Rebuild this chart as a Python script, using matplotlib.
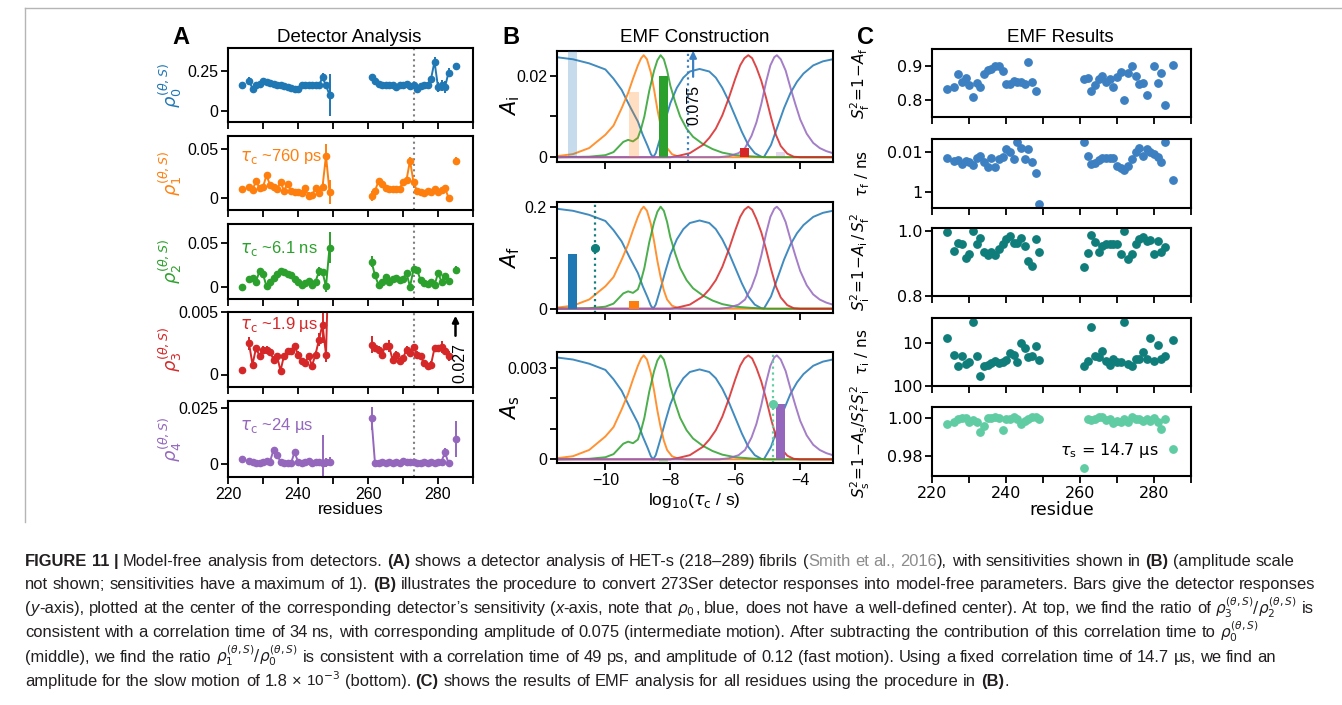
import numpy as np
import matplotlib
matplotlib.use("Agg")
import matplotlib.pyplot as plt
from matplotlib.lines import Line2D
from matplotlib.ticker import NullLocator

plt.rcParams['font.family'] = ['Liberation Sans', 'DejaVu Sans']
plt.rcParams['mathtext.fontset'] = 'dejavusans'

nan = np.nan

# ---------------- detector responses per residue (panel A) ----------------
residues = [224,
            226, 227, 228, 229, 230, 231, 232, 233, 234, 235, 236, 237, 238,
            239, 240, 241, 242, 243, 244, 245, 246, 247, 248, 249,
            261, 262, 263, 264, 265, 266, 267, 268, 269, 270, 271, 272, 273,
            274, 275, 276, 277, 278, 279, 280, 281, 282, 283,
            285]

rho0 = [0.16,
        0.19, 0.14, 0.16, 0.17, 0.19, 0.18, 0.175, 0.17, 0.165, 0.16, 0.155, 0.15, 0.145,
        0.14, 0.135, 0.16, 0.16, 0.165, 0.16, 0.165, 0.16, 0.21, 0.16, 0.10,
        0.21, 0.19, 0.17, 0.165, 0.165, 0.16, 0.165, 0.15, 0.16, 0.165, 0.17, 0.155, 0.16,
        0.14, 0.155, 0.16, 0.165, 0.20, 0.31, 0.15, 0.16, 0.15, 0.24,
        0.28]
rho0_err = [0.012,
            0.02, 0.01, 0.008, 0.008, 0.008, 0.008, 0.008, 0.008, 0.008, 0.008, 0.008, 0.008, 0.008,
            0.008, 0.008, 0.008, 0.01, 0.008, 0.01, 0.01, 0.012, 0.025, 0.015, 0.13,
            0.015, 0.01, 0.008, 0.008, 0.01, 0.008, 0.008, 0.02, 0.008, 0.008, 0.008, 0.008, 0.008,
            0.008, 0.01, 0.008, 0.008, 0.01, 0.03, 0.03, 0.035, 0.04, 0.03,
            0.015]

rho1 = [0.009,
        0.011, 0.008, 0.017, 0.010, 0.011, 0.023, 0.013, 0.011, 0.009, 0.016, 0.007, 0.0145, 0.007,
        0.006, 0.0055, 0.0045, 0.0095, 0.002, 0.003, 0.0095, 0.0045, 0.011, 0.043, 0.006,
        0.002, 0.007, 0.017, 0.0145, 0.010, 0.0085, 0.0085, 0.0085, 0.009, 0.016, 0.018, 0.038, 0.016,
        0.007, 0.006, 0.0045, 0.007, 0.006, 0.009, 0.006, 0.008, 0.010, 0.0,
        0.038]
rho1_err = [0.002,
            0.003, 0.002, 0.002, 0.002, 0.002, 0.003, 0.002, 0.002, 0.002, 0.003, 0.002, 0.002, 0.002,
            0.002, 0.002, 0.002, 0.002, 0.004, 0.002, 0.002, 0.004, 0.004, 0.012, 0.012,
            0.005, 0.002, 0.002, 0.002, 0.002, 0.002, 0.002, 0.002, 0.002, 0.002, 0.002, 0.004, 0.002,
            0.002, 0.002, 0.002, 0.002, 0.002, 0.002, 0.002, 0.002, 0.003, 0.002,
            0.004]

rho2 = [0.0,
        0.009, 0.0099, 0.006, 0.018, 0.0145, 0.0005, 0.006, 0.0099, 0.0145, 0.018, 0.017, 0.0145, 0.0137,
        0.009, 0.006, 0.0015, 0.0042, 0.007, 0.0023, 0.006, 0.0176, 0.0168, 0.0005, 0.045,
        0.029, 0.013, 0.0023, 0.006, 0.0107, 0.006, 0.0092, 0.0105, 0.008, 0.0095, 0.0157, 0.0, 0.020,
        0.0195, 0.008, 0.0042, 0.0034, 0.006, 0.0015, 0.0157, 0.006, 0.0126, 0.0069,
        0.0195]
rho2_err = [0.0015,
            0.0025, 0.0025, 0.0025, 0.0025, 0.0025, 0.0025, 0.0025, 0.0025, 0.0025, 0.0025, 0.0025, 0.0025, 0.0025,
            0.0025, 0.0025, 0.0025, 0.0025, 0.0025, 0.0025, 0.0025, 0.005, 0.004, 0.006, 0.018,
            0.006, 0.0025, 0.0025, 0.0025, 0.0025, 0.0025, 0.0025, 0.0025, 0.0025, 0.0025, 0.0025, 0.004, 0.0025,
            0.0025, 0.0025, 0.0025, 0.0025, 0.0025, 0.0025, 0.003, 0.0025, 0.003, 0.0025,
            0.004]

rho3 = [0.00035,
        0.0025, 0.0008, 0.0021, 0.0015, 0.002, 0.002, 0.0018, 0.0012, 0.0015, 0.0003, 0.0015, 0.0019, 0.0019,
        0.0023, 0.0016, 0.0011, 0.0009, 0.0015, 0.0007, 0.0016, 0.0028, 0.0040, 0.0016, 0.012,
        0.0024, 0.0021, 0.002, 0.0016, 0.0023, 0.0023, 0.0012, 0.0016, 0.0011, 0.0013, 0.002, 0.0017, 0.0022,
        0.0016, 0.0015, 0.0009, 0.0007, 0.0008, 0.0021, 0.0021, 0.0022, 0.0019, 0.0015,
        0.027]
rho3_err = [0.0002,
            0.0005, 0.00025, 0.00025, 0.00025, 0.00025, 0.00025, 0.00025, 0.00025, 0.00025, 0.00025, 0.00025, 0.00025, 0.00025,
            0.00025, 0.00025, 0.00025, 0.00025, 0.00025, 0.00025, 0.00025, 0.0005, 0.0015, 0.0006, 0.004,
            0.0007, 0.00025, 0.00025, 0.00025, 0.00025, 0.0005, 0.00025, 0.00025, 0.00025, 0.00025, 0.00025, 0.00025, 0.00025,
            0.00025, 0.00025, 0.00025, 0.00025, 0.00025, 0.00025, 0.00025, 0.0005, 0.00025, 0.0004,
            0.004]

rho4 = [0.0024,
        0.0015, 0.0009, 0.0004, 0.0007, 0.0009, 0.0015, 0.0012, 0.0064, 0.0042, 0.0012, 0.0004, 0.0007, 0.0004,
        0.0054, 0.0012, 0.0004, 0.0009, 0.0015, 0.0004, 0.0012, 0.0008, 0.0005, 0.0009, 0.0012,
        0.0205, 0.0004, 0.0007, 0.0009, 0.0004, 0.0009, 0.0004, 0.0012, 0.0004, 0.0015, 0.0009, 0.0012, 0.0012,
        0.0004, 0.0004, 0.0009, 0.0004, 0.0012, 0.0004, 0.0009, 0.0012, 0.0054, 0.0004,
        0.0113]
rho4_err = [0.0004,
            0.0004, 0.0004, 0.0004, 0.0004, 0.0004, 0.0004, 0.0004, 0.0006, 0.0004, 0.0004, 0.0004, 0.0004, 0.0004,
            0.0006, 0.0004, 0.0004, 0.0004, 0.0004, 0.0004, 0.0004, 0.0006, 0.0125, 0.002, 0.002,
            0.005, 0.0004, 0.0004, 0.0004, 0.0004, 0.0004, 0.0004, 0.0004, 0.0004, 0.0004, 0.0004, 0.0004, 0.0004,
            0.0004, 0.0004, 0.0004, 0.0004, 0.0004, 0.0004, 0.0004, 0.0004, 0.002, 0.0004,
            0.008]

tau_notes = ['', '~760 ps', '~6.1 ns', '~1.9 \u00b5s', '~24 \u00b5s']

# ---------------- detector sensitivities (panel B, normalised) ----------------
sens0_x = [-11.5, -11.0, -10.5, -10.0, -9.75, -9.5, -9.25, -9.0, -8.85, -8.7,
           -8.6, -8.53, -8.45, -8.3, -8.15, -8.0, -7.8, -7.6, -7.4, -7.1,
           -6.8, -6.6, -6.4, -6.2, -6.0, -5.8, -5.6, -5.4, -5.2, -5.12,
           -4.9, -4.7, -4.5, -4.3, -4.1, -3.9, -3.6, -3.3, -3.0]
sens0_y = [0.98, 0.96, 0.92, 0.86, 0.77, 0.66, 0.50, 0.35, 0.22, 0.11,
           0.03, 0.0, 0.04, 0.2, 0.37, 0.53, 0.68, 0.78, 0.84, 0.865,
           0.84, 0.78, 0.68, 0.55, 0.40, 0.25, 0.12, 0.04, 0.005, 0.0,
           0.12, 0.30, 0.48, 0.63, 0.74, 0.82, 0.90, 0.94, 0.96]
sens1_x = [-11.5, -11.0, -10.5, -10.0, -9.75, -9.5, -9.3, -9.15, -9.0, -8.9, -8.82,
           -8.72, -8.6, -8.5, -8.4, -8.3, -8.2, -8.1, -7.95, -7.75, -7.5, -3.0]
sens1_y = [0.01, 0.03, 0.09, 0.22, 0.31, 0.48, 0.63, 0.77, 0.90, 0.97, 1.0,
           0.96, 0.83, 0.66, 0.47, 0.31, 0.18, 0.09, 0.03, 0.005, 0.0, 0.0]
sens2_x = [-11.5, -10.5, -10.0, -9.75, -9.6, -9.45, -9.3, -9.15, -9.0, -8.9,
           -8.8, -8.65, -8.5, -8.4, -8.3, -8.2, -8.1, -8.0, -7.85, -7.7,
           -7.5, -7.3, -7.0, -6.7, -6.4, -6.0, -5.5, -5.0, -3.0]
sens2_y = [0.0, 0.005, 0.02, 0.05, 0.10, 0.15, 0.17, 0.155, 0.19, 0.28,
           0.40, 0.65, 0.85, 0.95, 1.0, 0.96, 0.85, 0.70, 0.54, 0.40,
           0.28, 0.20, 0.13, 0.08, 0.045, 0.02, 0.008, 0.0, 0.0]
sens3_x = [-11.5, -8.0, -7.8, -7.4, -7.0, -6.8, -6.6, -6.4, -6.2, -6.0, -5.85, -5.72,
           -5.6, -5.48, -5.35, -5.2, -5.05, -4.9, -4.75, -4.6, -4.4, -4.2, -4.0, -3.0]
sens3_y = [0.0, 0.0, 0.01, 0.04, 0.12, 0.19, 0.28, 0.41, 0.58, 0.77, 0.90, 0.97,
           1.0, 0.97, 0.88, 0.75, 0.58, 0.39, 0.22, 0.11, 0.035, 0.005, 0.0, 0.0]
sens4_x = [-11.5, -6.5, -6.2, -5.9, -5.7, -5.5, -5.35, -5.2, -5.05, -4.92, -4.8,
           -4.72, -4.6, -4.45, -4.3, -4.15, -4.0, -3.8, -3.6, -3.4, -3.2, -3.0]
sens4_y = [0.0, 0.0, 0.01, 0.04, 0.09, 0.21, 0.34, 0.52, 0.74, 0.90, 0.98,
           1.0, 0.96, 0.85, 0.68, 0.52, 0.37, 0.23, 0.14, 0.09, 0.06, 0.04]

det_center = [-11.0, -9.12, -8.22, -5.72, -4.62]
curve_scale = [0.025, 0.2, 0.0034]
resp_mid = [0.108, 0.0157]          # rho0, rho1 after removing the intermediate motion
resp_slow = [-0.00012, 0.0018]      # rho2, rho4 after removing fast + intermediate

fit_tau = [34e-9, 49e-12, 14.7e-6]  # intermediate, fast, slow (s)
fit_amp = [0.075, 0.12, 1.8e-3]

# ---------------- EMF results (panel C) ----------------
s2_f = [0.833,
        0.838, 0.876, 0.854, 0.865, 0.844, 0.809, 0.851, 0.839, 0.876, 0.889, 0.890, 0.900, 0.900,
        0.884, 0.847, 0.847, 0.856, 0.854, 0.854, 0.847, 0.911, 0.854, 0.827, nan,
        0.863, 0.865, 0.826, 0.845, 0.861, 0.871, 0.854, 0.861, 0.838, 0.869, 0.883, 0.800, 0.880,
        0.900, 0.871, 0.847, 0.849, 0.814, nan, 0.899, 0.851, 0.879, 0.785,
        0.902]
tau_f = [0.0202,
         0.0265, 0.0245, 0.0408, 0.0265, 0.0298, 0.0441, 0.0202, 0.0154, 0.0298, 0.058, 0.0202, 0.058, 0.0227,
         0.018, 0.0068, 0.01, 0.0227, 0.0031, 0.0058, 0.0227, 0.007, 0.0298, 0.108, 3.9,
         0.0031, 0.0148, 0.039, 0.036, 0.0245, 0.0202, 0.0187, 0.0202, 0.0202, 0.0496, 0.065, 0.079, 0.0496,
         0.0227, 0.01, 0.0063, 0.0148, 0.0068, 0.0092, 0.012, 0.0166, 0.0298, 0.0031,
         0.236]
s2_i = [0.997,
        0.940, 0.964, 0.961, 0.917, 0.930, 1.0, 0.960, 0.979, 0.935, 0.927, 0.935, 0.927, 0.946,
        0.961, 0.976, 0.986, 0.964, 0.964, 0.981, 0.956, 0.908, 0.894, 0.976, 0.935,
        0.891, 0.932, 0.988, 0.967, 0.9375, 0.955, 0.961, 0.961, 0.961, 0.961, 0.929, 1.0, 0.914,
        0.931, 0.961, 0.977, 0.983, 0.969, 0.974, 0.929, 0.969, 0.935, 0.953,
        nan]
tau_i = [7.6,
         18.8, 35, 19.5, 30.5, 26.9, 3.3, 20.2, 58, 35, 32.8, 29.4, 25.5, 29.4,
         28, 24.6, 17.2, 18.8, 26.9, 10, 13.1, 21.6, 20.5, 12, 24.6,
         35, 26, 4.3, 20.5, 21.6, 15.6, 25.5, 32.2, 23.7, 26.9, 27.9, 3.3, 30.5,
         35, 23.7, 23.7, 16.5, 23.7, 7.8, 26, 11, 23.7, 20.5,
         8.5]
s2_s = [0.997,
        0.998, 0.9996, 1.0, 1.0, 0.998, 0.999, 0.998, 0.9924, 0.996, 1.0, 1.0, 1.0005, 1.0,
        0.9938, 0.9995, 0.9995, 1.0005, 0.9993, 0.997, 0.9986, 0.9996, 1.0005, 1.0005, 0.9995,
        0.9738, 0.9996, 0.9989, 0.9995, 1.0005, 1.0005, 0.9989, 0.9993, 0.9973, 0.9986, 0.9978, 0.9995, 0.998,
        1.0005, 0.9995, 0.9995, 0.9986, 0.9995, 0.9986, 1.0, 0.998, 0.9942, 0.9995,
        0.9837]

# ---------------- figure set-up ----------------
W, H = 1342, 705
fig = plt.figure(figsize=(W / 100, H / 100), dpi=100)
fig.patch.set_facecolor('white')

tab = ['tab:blue', 'tab:orange', 'tab:green', 'tab:red', 'tab:purple']
c_fast = '#3d80c2'
c_int = '#0f7d7a'
c_slow = '#5fcca3'


def add_ax(x0, y0, x1, y1):
    return fig.add_axes([x0 / W, 1 - y1 / H, (x1 - x0) / W, (y1 - y0) / H])


def style(ax, family=None):
    for s in ax.spines.values():
        s.set_linewidth(1.5)
    ax.tick_params(direction='out', length=5, width=1.3, labelsize=11.5, pad=2)
    if family:
        for lab in ax.get_xticklabels() + ax.get_yticklabels():
            lab.set_family(family)


res = np.array(residues)
runs = np.split(np.arange(len(res)), np.where(np.diff(res) > 1)[0] + 1)
at273 = residues.index(273)
res_ticks = [220, 230, 240, 250, 260, 270, 280, 290]
res_ticklabels = ['220', '', '240', '', '260', '', '280', '']

# ---------------- panel A ----------------
a_rows = [(48, 122), (136, 210), (224, 299), (312, 387), (401, 477)]
a_ylims = [(-0.07, 0.395), (-0.0125, 0.063), (-0.014, 0.072), (-0.001, 0.005), (-0.0057, 0.0283)]
a_ticks = [[0, 0.25], [0, 0.05], [0, 0.05], [0, 0.005], [0, 0.025]]
a_labels = [['0', '0.25'], ['0', '0.05'], ['0', '0.05'], ['0', '0.005'], ['0', '0.025']]
a_note_y = [0, 0.72, 0.68, 0.83, 0.675]
rho_all = [(rho0, rho0_err), (rho1, rho1_err), (rho2, rho2_err), (rho3, rho3_err), (rho4, rho4_err)]

for k, (y0, y1) in enumerate(a_rows):
    ax = add_ax(228, y0, 473, y1)
    vals, errs = np.array(rho_all[k][0]), np.array(rho_all[k][1])
    for r in runs:
        ax.errorbar(res[r], vals[r], yerr=errs[r], color=tab[k], marker='o', ms=4.5,
                    lw=1.4, elinewidth=1.4, capsize=0)
    ax.axvline(273, color='gray', ls=':', lw=1.5, zorder=0)
    ax.set_xlim(220, 290)
    ax.set_ylim(*a_ylims[k])
    ax.set_yticks(a_ticks[k])
    ax.set_yticklabels(a_labels[k])
    ax.set_xticks(res_ticks)
    ax.set_xticklabels(res_ticklabels if k == 4 else [])
    ax.set_ylabel(r'$\rho_%d^{(\theta,S)}$' % k, color=tab[k], fontsize=13)
    ax.yaxis.set_label_coords(-0.18, 0.5)
    if tau_notes[k]:
        ax.text(0.05, a_note_y[k], r'$\tau_\mathrm{c}$ ' + tau_notes[k], color=tab[k],
                fontsize=12, transform=ax.transAxes, va='center', ha='left')
    if k == 3:
        # residue 285 lies far above the axis range
        top = a_ylims[k][1]
        ax.annotate('', xy=(285, top * 0.94), xytext=(285, top * 0.62),
                    arrowprops=dict(arrowstyle='-|>', color='black', lw=1.8, mutation_scale=9,
                                    shrinkA=0, shrinkB=0))
        ax.text(286.3, top * 0.19, f'{rho3[-1]:.3f}', rotation=90, ha='center', va='center',
                fontsize=11.5)
    if k == 4:
        ax.set_xlabel('residues', fontsize=12.5, labelpad=0)
    style(ax)

# ---------------- panel B ----------------
b_rows = [(50.7, 161.7), (201.7, 313.3), (351.7, 463.3)]
b_ylims = [(-0.0011, 0.0261), (-0.009, 0.2098), (-0.00013, 0.00352)]
b_ticks = [[0, 0.01, 0.02], [0, 0.1, 0.2], [0, 0.001, 0.002, 0.003]]
b_labels = [['0', '', '0.02'], ['0', '', '0.2'], ['0', '', '', '0.003']]
b_ylabels = [r'$A_\mathrm{i}$', r'$A_\mathrm{f}$', r'$A_\mathrm{s}$']
sens = [(sens0_x, sens0_y), (sens1_x, sens1_y), (sens2_x, sens2_y),
        (sens3_x, sens3_y), (sens4_x, sens4_y)]
fit_col = [c_fast, c_int, c_slow]

b_axes = []
for k, (y0, y1) in enumerate(b_rows):
    ax = add_ax(556.7, y0, 832.7, y1)
    for j, (sx, sy) in enumerate(sens):
        ax.plot(sx, np.array(sy) * curve_scale[k], color=tab[j], lw=1.4, alpha=0.85, zorder=1)
    ax.set_xlim(-11.5, -3.0)
    ax.set_ylim(*b_ylims[k])
    ax.set_yticks(b_ticks[k])
    ax.set_yticklabels(b_labels[k])
    ax.set_xticks([-10, -8, -6, -4])
    if k < 2:
        ax.set_xticklabels([])
    else:
        ax.set_xlabel(r'log$_{10}$($\tau_\mathrm{c}$ / s)', fontsize=12.5, labelpad=2)
    ax.set_ylabel(b_ylabels[k], fontsize=15)
    ax.yaxis.set_label_coords(-0.125, 0.5)
    style(ax)
    b_axes.append(ax)

# top: responses of residue 273, ratio rho3/rho2 gives the intermediate motion
ax = b_axes[0]
resp273 = [rho_all[j][0][at273] for j in range(5)]
used = [False, False, True, True, False]
for j in range(5):
    ax.bar(det_center[j], resp273[j], width=0.28, color=tab[j],
           alpha=1.0 if used[j] else 0.25, zorder=3)
lt = np.log10(fit_tau[0])
ax.axvline(lt, color=fit_col[0], ls=':', lw=1.6, zorder=2)
ax.plot([lt], [fit_amp[0]], 'o', color=fit_col[0], clip_on=True)
ax.annotate('', xy=(lt + 0.17, 0.0261), xytext=(lt + 0.17, 0.0197),
            arrowprops=dict(arrowstyle='-|>', color=fit_col[0], lw=1.6, mutation_scale=10,
                            shrinkA=0, shrinkB=0))
ax.text(lt + 0.2, 0.0128, f'{fit_amp[0]:.3f}', rotation=90, ha='center', va='center',
        fontsize=11.5)

# middle: fast motion from rho1/rho0
ax = b_axes[1]
ax.bar(det_center[0], resp_mid[0], width=0.28, color=tab[0], zorder=3)
ax.bar(det_center[1], resp_mid[1], width=0.28, color=tab[1], zorder=3)
lt = np.log10(fit_tau[1])
ax.axvline(lt, color=fit_col[1], ls=':', lw=1.6, zorder=2)
ax.errorbar([lt], [fit_amp[1]], xerr=0.12, fmt='o', color=fit_col[1], ms=5.5,
            elinewidth=2.5, capsize=0, zorder=4)

# bottom: slow motion at fixed correlation time
ax = b_axes[2]
ax.bar(det_center[2], resp_slow[0], width=0.28, color=tab[2], alpha=0.25, zorder=3)
ax.bar(det_center[4], resp_slow[1], width=0.28, color=tab[4], zorder=3)
lt = np.log10(fit_tau[2])
ax.axvline(lt, color=fit_col[2], ls=':', lw=1.6, zorder=2)
ax.errorbar([lt], [fit_amp[2]], xerr=0.12, fmt='o', color=fit_col[2], ms=5.5,
            elinewidth=2.5, capsize=0, zorder=4)

# ---------------- panel C ----------------
c_rows = [(49, 117), (139, 208), (228, 296), (318, 386), (407, 476)]
c_data = [s2_f, tau_f, s2_i, tau_i, s2_s]
c_cols = [c_fast, c_fast, c_int, c_int, c_slow]
c_ylims = [(0.75, 0.95), (6.5, 0.0021), (0.8, 1.0106), (100, 2.6), (0.9694, 1.0058)]
c_ticks = [[0.8, 0.9], [0.01, 1], [0.8, 1.0], [10, 100], [0.98, 1.00]]
c_labels = [['0.8', '0.9'], ['0.01', '1'], ['0.8', '1.0'], ['10', '100'], ['0.98', '1.00']]
c_ylabels = [r'$S_\mathrm{f}^2\!=\!1\!-\!A_\mathrm{f}$',
             r'$\tau_\mathrm{f}$ / ns',
             r'$S_\mathrm{i}^2\!=\!1\!-\!A_\mathrm{i}\,/\,S_\mathrm{f}^2$',
             r'$\tau_\mathrm{i}$ / ns',
             r'$S_\mathrm{s}^2\!=\!1\!-\!A_\mathrm{s}/S_\mathrm{f}^2S_\mathrm{i}^2$']

for k, (y0, y1) in enumerate(c_rows):
    ax = add_ax(932.3, y0, 1191, y1)
    ax.plot(res, c_data[k], 'o', color=c_cols[k], ms=5.3, ls='none')
    if k in (1, 3):
        ax.set_yscale('log')
        ax.yaxis.set_minor_locator(NullLocator())
    ax.set_xlim(220, 290)
    ax.set_ylim(*c_ylims[k])
    ax.set_yticks(c_ticks[k])
    ax.set_yticklabels(c_labels[k])
    ax.set_xticks(res_ticks)
    ax.set_xticklabels(res_ticklabels if k == 4 else [])
    ax.set_ylabel(c_ylabels[k], fontsize=11, family='DejaVu Sans')
    ax.yaxis.set_label_coords(-0.235, 0.5)
    if k == 4:
        ax.set_xlabel('residue', fontsize=12.5, family='DejaVu Sans', labelpad=0)
        ax.text(254.5, 0.9828, r'$\tau_\mathrm{s}$' + ' = %.1f \u00b5s' % (fit_tau[2] * 1e6),
                fontsize=11.5, family='DejaVu Sans', va='center', ha='left')
    style(ax, 'DejaVu Sans')

# ---------------- headings ----------------
for x, s in [(181, 'A'), (511, 'B'), (865, 'C')]:
    fig.text(x / W, 1 - 38 / H, s, fontsize=17, weight='bold', ha='center', va='center')
for x, s in [(349, 'Detector Analysis'), (695, 'EMF Construction'), (1060, 'EMF Results')]:
    fig.text(x / W, 1 - 38 / H, s, fontsize=13.5, ha='center', va='center')

# page frame
fig.add_artist(Line2D([25 / W, 1], [1 - 8 / H, 1 - 8 / H], transform=fig.transFigure,
                      color='#b5b5b5', lw=1))
fig.add_artist(Line2D([25 / W, 25 / W], [1 - 8 / H, 1 - 522 / H], transform=fig.transFigure,
                      color='#b5b5b5', lw=1))

# ---------------- caption ----------------
cap_font = ['Liberation Sans Narrow', 'Liberation Sans', 'DejaVu Sans']
N = dict(family=cap_font, color='#231f20')
B = dict(family=cap_font, color='#231f20', weight='bold')
G = dict(family=cap_font, color='#8c8c8c')
I = dict(family=cap_font, color='#231f20', style='italic')

caption = [
    [("FIGURE 11", B), (" | ", B), ("Model-free analysis from detectors. ", N), ("(A)", B),
     (" shows a detector analysis of HET-s (218\u2013289) fibrils (", N), ("Smith et al., 2016", G),
     ("), with sensitivities shown in ", N), ("(B)", B), (" (amplitude scale", N)],
    [("not shown; sensitivities have a maximum of 1). ", N), ("(B)", B),
     (" illustrates the procedure to convert 273Ser detector responses into model-free parameters. "
      "Bars give the detector responses", N)],
    [("(", N), ("y", I), ("-axis), plotted at the center of the corresponding detector\u2019s sensitivity (", N),
     ("x", I), ("-axis, note that ", N), (r"$\rho_0$", N),
     (", blue, does not have a well-defined center). At top, we find the ratio of ", N),
     (r"$\rho_3^{(\theta,S)}/\rho_2^{(\theta,S)}$", N), (" is", N)],
    [("consistent with a correlation time of 34 ns, with corresponding amplitude of 0.075 "
      "(intermediate motion). After subtracting the contribution of this correlation time to ", N),
     (r"$\rho_0^{(\theta,S)}$", N)],
    [("(middle), we find the ratio ", N), (r"$\rho_1^{(\theta,S)}/\rho_0^{(\theta,S)}$", N),
     (" is consistent with a correlation time of 49 ps, and amplitude of 0.12 (fast motion). "
      "Using a fixed correlation time of 14.7 \u00b5s, we find an", N)],
    [("amplitude for the slow motion of 1.8 \u00d7 ", N), (r"10$^{-3}$", N), (" (bottom). ", N),
     ("(C)", B), (" shows the results of EMF analysis for all residues using the procedure in ", N),
     ("(B)", B), (".", N)],
]
cap_base = [566, 589, 613, 637, 662, 686]
cap_left, cap_right = 25, 1334

renderer = fig.canvas.get_renderer()


def words_of(segments):
    words, new_word = [], True
    for text, st in segments:
        for i, p in enumerate(text.split(' ')):
            if i > 0:
                new_word = True
            if p == '':
                continue
            if new_word or not words:
                words.append([(p, st)])
            else:
                words[-1].append((p, st))
            new_word = False
    return words


def width_of(s, fs, st):
    t = fig.text(0, 0, s, fontsize=fs, **st)
    w = t.get_window_extent(renderer).width
    t.remove()
    return w


def line_width(segments, fs):
    words = words_of(segments)
    sp = width_of('n n', fs, N) - width_of('nn', fs, N)
    return sum(width_of(p, fs, st) for w in words for p, st in w) + sp * (len(words) - 1)


# size the caption so the longest full line fits the text block
fs0 = 10.0
widest = max(line_width(caption[i], fs0) for i in (1, 2, 4))
fs = fs0 * (cap_right - cap_left) / widest * 0.99
space = width_of('n n', fs, N) - width_of('nn', fs, N)
for segs, yb in zip(caption, cap_base):
    x = cap_left
    for w in words_of(segs):
        for p, st in w:
            # formula pieces slightly smaller so stacked superscripts keep clear of the line above
            pfs = fs * 0.92 if '$' in p else fs
            fig.text(x / W, 1 - yb / H, p, fontsize=pfs, va='baseline', ha='left', **st)
            x += width_of(p, pfs, st)
        x += space

fig.savefig('out.png', dpi=100)
